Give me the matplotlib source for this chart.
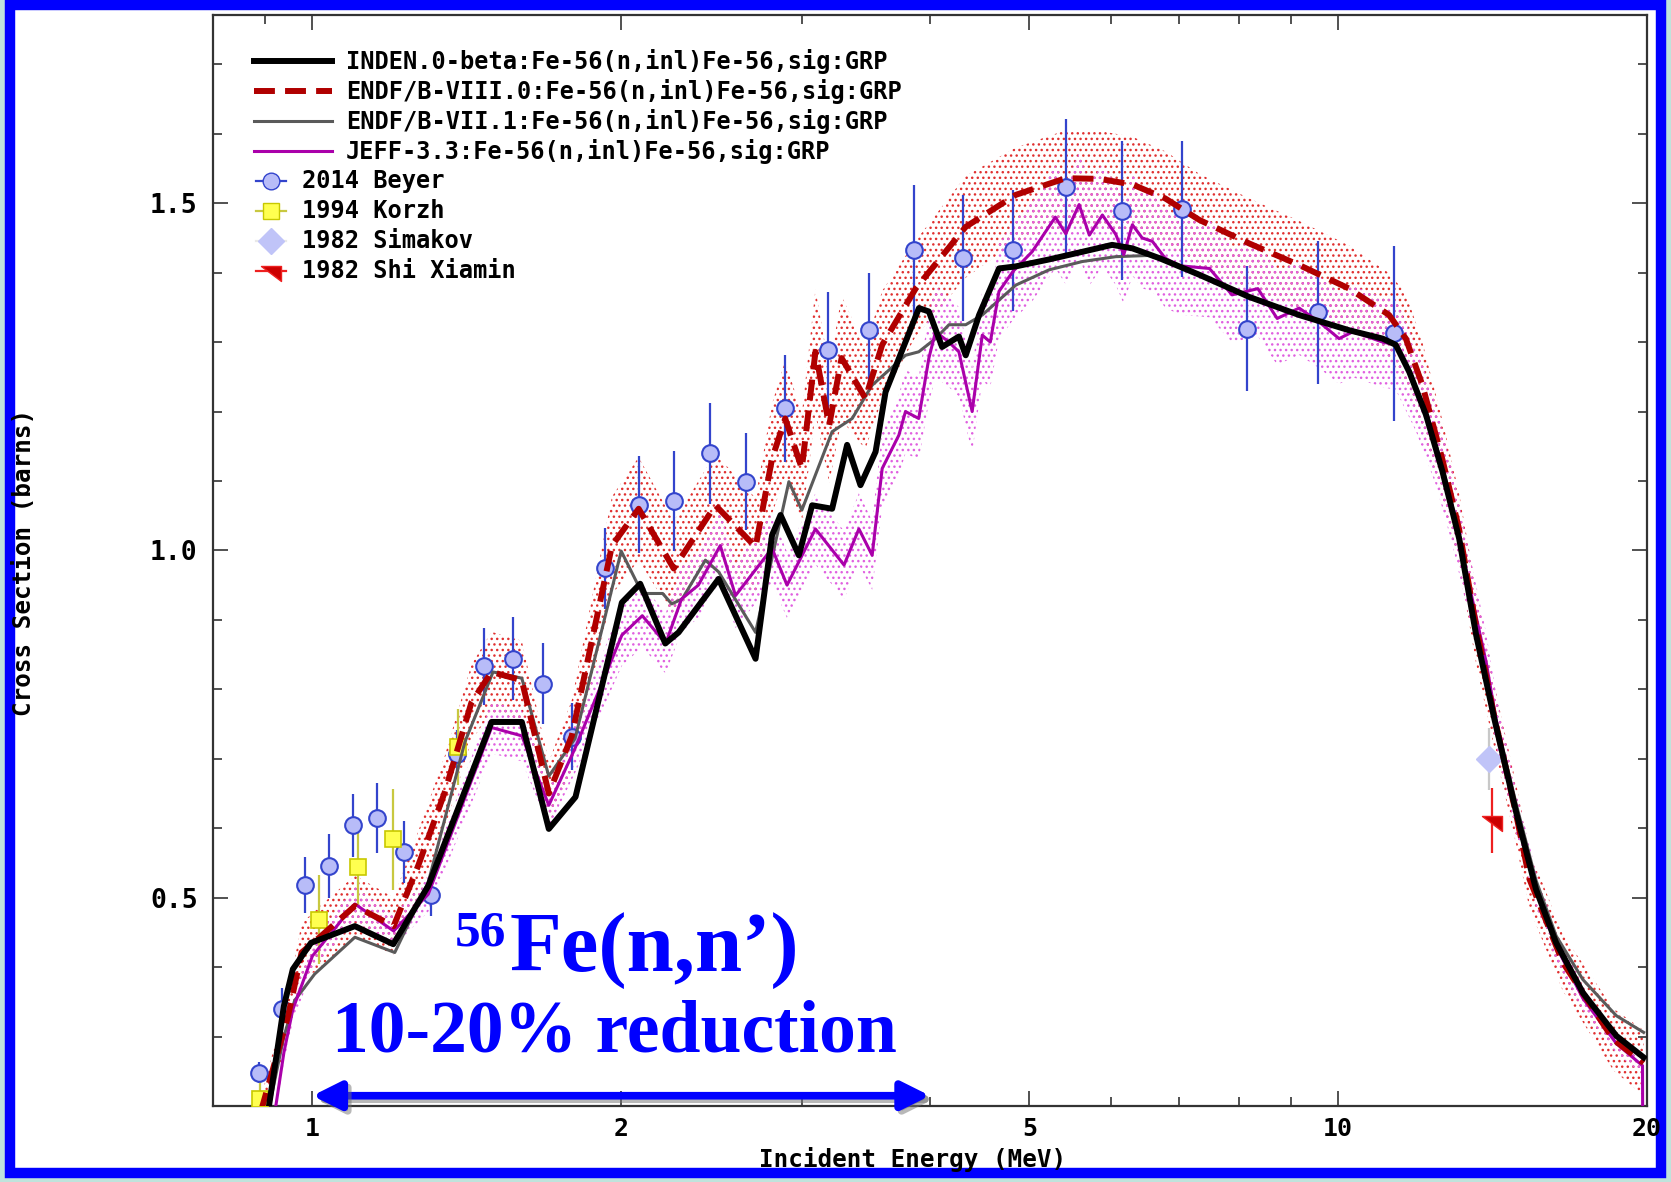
import matplotlib
matplotlib.use('Agg')
import matplotlib.pyplot as plt
import matplotlib.patheffects as pe
from matplotlib.lines import Line2D
from matplotlib.patches import Rectangle
from matplotlib.path import Path
from matplotlib.ticker import FixedLocator, NullFormatter, FixedFormatter

# ---------------- evaluated cross sections (MeV, barns) ----------------
inden_e = [0.905, 0.938, 0.957, 0.997, 1.10, 1.199, 1.297, 1.495, 1.60, 1.70, 1.805,
           2.003, 2.087, 2.208, 2.275, 2.489, 2.704, 2.806, 2.86, 2.98, 3.07, 3.211,
           3.321, 3.422, 3.54, 3.62, 3.902, 3.99, 4.11, 4.268, 4.334, 4.466, 4.67,
           4.849, 5.225, 5.63, 6.02, 6.30, 6.69, 7.32, 8.19, 9.16, 10.25, 11.05,
           11.38, 11.73, 12.18, 12.64, 13.12, 13.63, 14.2, 14.91, 15.59, 16.31,
           17.32, 18.67, 19.85]
inden_s = [0.19, 0.344, 0.397, 0.435, 0.459, 0.433, 0.517, 0.753, 0.753, 0.599, 0.645,
           0.925, 0.952, 0.866, 0.882, 0.959, 0.844, 1.022, 1.051, 0.993, 1.065, 1.060,
           1.152, 1.094, 1.142, 1.228, 1.349, 1.344, 1.293, 1.308, 1.281, 1.339, 1.406,
           1.409, 1.419, 1.430, 1.440, 1.435, 1.421, 1.397, 1.365, 1.339, 1.317, 1.305,
           1.296, 1.257, 1.195, 1.113, 1.017, 0.878, 0.757, 0.623, 0.512, 0.435,
           0.363, 0.301, 0.270]

e80_e = [0.89, 0.947, 0.976, 1.02, 1.10, 1.20, 1.268, 1.346, 1.429, 1.495, 1.60, 1.70,
         1.79, 1.959, 2.08, 2.25, 2.471, 2.704, 2.806, 2.89, 3.0, 3.093, 3.19, 3.28,
         3.46, 3.593, 3.873, 4.334, 4.849, 5.425, 5.85, 6.3, 6.78, 7.32, 8.19, 9.16,
         10.25, 11.21, 11.64, 12.08, 12.64, 13.12, 13.63, 14.2, 14.91, 15.36, 16.55,
         18.54, 19.85]
e80_s = [0.19, 0.330, 0.421, 0.445, 0.488, 0.459, 0.546, 0.652, 0.781, 0.825, 0.813,
         0.650, 0.733, 1.007, 1.060, 0.974, 1.065, 1.005, 1.132, 1.190, 1.118, 1.286,
         1.180, 1.277, 1.219, 1.296, 1.377, 1.466, 1.512, 1.536, 1.535, 1.527, 1.507,
         1.476, 1.442, 1.411, 1.377, 1.339, 1.305, 1.238, 1.130, 1.030, 0.890, 0.760,
         0.620, 0.527, 0.407, 0.296, 0.262]
e80_unc = [0.10, 0.10, 0.10, 0.10, 0.09, 0.09, 0.09, 0.08, 0.07, 0.07, 0.07, 0.07,
           0.07, 0.07, 0.07, 0.07, 0.07, 0.07, 0.07, 0.07, 0.07, 0.07, 0.07, 0.07,
           0.06, 0.06, 0.05, 0.05, 0.045, 0.045, 0.045, 0.045, 0.045, 0.045, 0.045,
           0.045, 0.045, 0.045, 0.05, 0.05, 0.05, 0.05, 0.06, 0.06, 0.07, 0.08, 0.10,
           0.15, 0.18]

e71_e = [0.905, 0.938, 0.961, 1.005, 1.10, 1.203, 1.297, 1.408, 1.50, 1.60, 1.70,
         1.803, 2.0, 2.097, 2.195, 2.24, 2.293, 2.416, 2.489, 2.704, 2.914, 3.0,
         3.211, 3.359, 3.513, 3.786, 3.90, 4.05, 4.174, 4.334, 4.498, 4.849, 5.225,
         5.63, 6.07, 6.6, 7.32, 8.19, 9.16, 10.25, 11.05, 11.38, 11.73, 12.18, 12.64,
         13.12, 13.63, 14.2, 14.91, 15.59, 16.31, 17.32, 18.67, 19.85]
e71_s = [0.19, 0.300, 0.352, 0.390, 0.443, 0.421, 0.522, 0.724, 0.825, 0.816, 0.675,
         0.729, 0.999, 0.938, 0.938, 0.923, 0.930, 0.986, 0.969, 0.882, 1.099, 1.058,
         1.171, 1.190, 1.238, 1.281, 1.286, 1.305, 1.325, 1.325, 1.339, 1.382, 1.404,
         1.416, 1.423, 1.425, 1.397, 1.365, 1.339, 1.317, 1.305, 1.296, 1.260, 1.200,
         1.120, 1.025, 0.885, 0.765, 0.635, 0.525, 0.445, 0.382, 0.330, 0.306]

jeff_e = [0.919, 0.938, 0.957, 1.0, 1.10, 1.20, 1.297, 1.495, 1.60, 1.70, 1.803, 2.003,
          2.097, 2.21, 2.29, 2.378, 2.498, 2.585, 2.806, 2.902, 3.093, 3.298, 3.41,
          3.513, 3.593, 3.73, 3.786, 3.90, 3.99, 4.05, 4.174, 4.268, 4.397, 4.498,
          4.58, 4.67, 4.82, 5.03, 5.30, 5.425, 5.59, 5.72, 5.89, 6.07, 6.18, 6.30,
          6.44, 6.59, 6.78, 7.0, 7.49, 7.88, 8.35, 8.72, 9.16, 9.58, 10.02, 10.34,
          11.05, 11.38, 11.91, 12.45, 12.93, 13.42, 13.94, 14.25, 14.91, 15.59, 16.31,
          17.32, 18.67, 19.80, 19.82]
jeff_s = [0.19, 0.277, 0.339, 0.416, 0.491, 0.452, 0.505, 0.745, 0.733, 0.633, 0.715,
          0.878, 0.906, 0.866, 0.930, 0.950, 1.007, 0.935, 1.003, 0.950, 1.031, 0.979,
          1.031, 0.993, 1.118, 1.166, 1.200, 1.190, 1.277, 1.315, 1.300, 1.286, 1.200,
          1.310, 1.300, 1.373, 1.402, 1.430, 1.480, 1.456, 1.498, 1.454, 1.483, 1.455,
          1.426, 1.469, 1.450, 1.445, 1.421, 1.410, 1.406, 1.368, 1.377, 1.334, 1.349,
          1.329, 1.305, 1.315, 1.300, 1.296, 1.233, 1.152, 1.060, 0.950, 0.839, 0.757,
          0.623, 0.512, 0.430, 0.355, 0.290, 0.258, 0.0]
jeff_unc = 0.05

# ---------------- experimental data ----------------
beyer_e = [0.888, 0.933, 0.983, 1.037, 1.095, 1.156, 1.227, 1.304, 1.382, 1.470, 1.568,
           1.677, 1.790, 1.930, 2.083, 2.252, 2.441, 2.649, 2.887, 3.178, 3.492, 3.858,
           4.306, 4.822, 5.425, 6.152, 7.04, 8.146, 9.546, 11.34]
beyer_s = [0.248, 0.340, 0.518, 0.545, 0.604, 0.615, 0.566, 0.504, 0.707, 0.833, 0.844,
           0.808, 0.732, 0.974, 1.066, 1.071, 1.140, 1.099, 1.205, 1.288, 1.318, 1.432,
           1.421, 1.432, 1.524, 1.489, 1.492, 1.319, 1.343, 1.3125]
beyer_err = [0.015, 0.03, 0.04, 0.046, 0.045, 0.05, 0.045, 0.03, 0.035, 0.055, 0.06,
             0.058, 0.048, 0.058, 0.07, 0.072, 0.073, 0.07, 0.077, 0.084, 0.082, 0.094,
             0.091, 0.087, 0.097, 0.10, 0.098, 0.09, 0.103, 0.126]

korzh_e = [0.89, 1.014, 1.108, 1.199, 1.387]
korzh_s = [0.21, 0.468, 0.544, 0.584, 0.717]
korzh_err = [0.03, 0.064, 0.056, 0.073, 0.055]

simakov_e = [14.02]
simakov_s = [0.700]
simakov_err = [0.045]

shi_e = [14.12]
shi_s = [0.611]
shi_err = [0.047]

legend_lines = ['INDEN.0-beta:Fe-56(n,inl)Fe-56,sig:GRP',
                'ENDF/B-VIII.0:Fe-56(n,inl)Fe-56,sig:GRP',
                'ENDF/B-VII.1:Fe-56(n,inl)Fe-56,sig:GRP',
                'JEFF-3.3:Fe-56(n,inl)Fe-56,sig:GRP']
legend_data = ['2014 Beyer', '1994 Korzh', '1982 Simakov', '1982 Shi Xiamin']

W, H = 1671, 1182
MONO = 'DejaVu Sans Mono'
plt.rcParams['hatch.linewidth'] = 1.0

fig = plt.figure(figsize=(W / 100, H / 100), dpi=100, facecolor='#bfe3dc')

# blue frame around the slide
frame = Rectangle((9.5 / W, 9 / H), 1651 / W, 1168 / H, transform=fig.transFigure,
                  facecolor='white', edgecolor='#0000ff', linewidth=7.5, zorder=0)
fig.add_artist(frame)

ax = fig.add_axes([213 / W, 1 - 1106 / H, 1434 / W, 1091 / H])
ax.set_xscale('log')
ax.set_xlim(0.8, 20.0)
ax.set_ylim(0.2, 1.771)

# uncertainty bands (dotted)
lo = [s * (1 - u) for s, u in zip(e80_s, e80_unc)]
hi = [s * (1 + u) for s, u in zip(e80_s, e80_unc)]
ax.fill_between(e80_e, lo, hi, facecolor='none', edgecolor='#e03030', hatch='...',
                linewidth=0, zorder=1)
ax.fill_between(jeff_e[:-1], [s * (1 - jeff_unc) for s in jeff_s[:-1]],
                [s * (1 + jeff_unc) for s in jeff_s[:-1]], facecolor='none',
                edgecolor='#e060e0', hatch='...', linewidth=0, zorder=1)

# experimental points
ax.errorbar(beyer_e, beyer_s, yerr=beyer_err, fmt='o', ms=12, mfc='#b8bcf8',
            mec='#3344cc', mew=1.5, ecolor='#3344cc', elinewidth=1.6, capsize=0, zorder=3)
ax.errorbar(korzh_e, korzh_s, yerr=korzh_err, fmt='s', ms=12, mfc='#ffff50',
            mec='#c8c800', mew=1.2, ecolor='#c8c840', elinewidth=1.6, capsize=0, zorder=3)
ax.errorbar(simakov_e, simakov_s, yerr=simakov_err, fmt='D', ms=13, mfc='#c0c4f8',
            mec='#c0c4f8', ecolor='#c8c8c8', elinewidth=1.6, capsize=0, zorder=3)
flag = Path([(-1, 0.55), (1, 0.55), (1, -1), (-1, 0.55)],
            [Path.MOVETO, Path.LINETO, Path.LINETO, Path.CLOSEPOLY])
ax.errorbar(shi_e, shi_s, yerr=shi_err, fmt='none', ecolor='#ee2020', elinewidth=1.6,
            capsize=0, zorder=3)
ax.plot(shi_e, shi_s, linestyle='none', marker=flag, ms=14, mfc='#cc0000',
        mec='#ee2020', zorder=3)

# evaluations
ax.plot(e71_e, e71_s, color='#5a5a5a', lw=2.2, zorder=4)
ax.plot(jeff_e, jeff_s, color='#aa00aa', lw=2.2, zorder=5)
ax.plot(e80_e, e80_s, color='#b00000', lw=4.3, dashes=(3.5, 1.7), zorder=6)
ax.plot(inden_e, inden_s, color='black', lw=4.3, zorder=7)

# ticks
ax.xaxis.set_major_locator(FixedLocator([1, 2, 5, 10, 20]))
ax.xaxis.set_major_formatter(FixedFormatter(['1', '2', '5', '10', '20']))
ax.xaxis.set_minor_locator(FixedLocator([0.9, 3, 4, 6, 7, 8, 9]))
ax.xaxis.set_minor_formatter(NullFormatter())
ax.yaxis.set_major_locator(FixedLocator([0.5, 1.0, 1.5]))
ax.yaxis.set_major_formatter(FixedFormatter(['0.5', '1.0', '1.5']))
ax.yaxis.set_minor_locator(FixedLocator([0.3, 0.4, 0.6, 0.7, 0.8, 0.9, 1.1, 1.2, 1.3,
                                         1.4, 1.6, 1.7]))
ax.tick_params(which='both', direction='in', top=True, right=True, color='#333333',
               width=1.2)
ax.tick_params(which='major', length=11)
ax.tick_params(which='minor', length=6.5)
ax.tick_params(axis='y', pad=11)
ax.tick_params(axis='x', pad=8)
for lab in ax.get_yticklabels():
    lab.set_fontfamily(MONO)
    lab.set_fontsize(19)
    lab.set_fontweight('bold')
for lab in ax.get_xticklabels():
    lab.set_fontfamily(MONO)
    lab.set_fontsize(18)
    lab.set_fontweight('bold')
for sp in ax.spines.values():
    sp.set_color('#333333')
    sp.set_linewidth(1.6)

ax.set_xlabel('Incident Energy (MeV)', fontfamily=MONO, fontsize=17.5,
              fontweight='bold')
ax.set_ylabel('Cross Section (barns)', fontfamily=MONO, fontsize=17.5,
              fontweight='bold')
ax.xaxis.set_label_coords(0.488, -0.038)
ax.yaxis.set_label_coords(-0.1235, 0.498)

# hand-made legend (line keys are longer than the marker keys)
row_y = [61, 91, 121, 151, 181, 211, 241, 271]
line_styles = [dict(color='black', lw=4.3),
               dict(color='#b00000', lw=4.3, dashes=(3.5, 1.7)),
               dict(color='#5a5a5a', lw=2.2),
               dict(color='#aa00aa', lw=2.2)]
for lbl, st, py in zip(legend_lines, line_styles, row_y[:4]):
    fig.add_artist(Line2D([254 / W, 332 / W], [1 - py / H, 1 - py / H], **st))
    fig.text(346 / W, 1 - py / H, lbl, fontfamily=MONO, fontweight='bold',
             fontsize=17, va='center', ha='left')
key_colors = ['#3344cc', '#c8c840', '#e8e8e8', '#ee2020']
marker_styles = [dict(marker='o', ms=12, mfc='#b8bcf8', mec='#3344cc'),
                 dict(marker='s', ms=12, mfc='#ffff50', mec='#c8c800'),
                 dict(marker='D', ms=13, mfc='#c0c4f8', mec='#c0c4f8'),
                 dict(marker=flag, ms=14, mfc='#cc0000', mec='#ee2020')]
for lbl, kc, st, py in zip(legend_data, key_colors, marker_styles, row_y[4:]):
    fig.add_artist(Line2D([256 / W, 286 / W], [1 - py / H, 1 - py / H], lw=1.6,
                          color=kc))
    fig.add_artist(Line2D([271 / W], [1 - py / H], lw=0, **st))
    fig.text(302 / W, 1 - py / H, lbl, fontfamily=MONO, fontweight='bold',
             fontsize=17, va='center', ha='left')

# annotation
SERIF = 'Liberation Serif'
fig.text(455 / W, 1 - 945 / H, '56', fontfamily=SERIF, fontweight='bold',
         fontsize=37, color='#0000ff', ha='left', va='baseline')
fig.text(510 / W, 1 - 971 / H, 'Fe(n,n\u2019)', fontfamily=SERIF, fontweight='bold',
         fontsize=61, color='#0000ff', ha='left', va='baseline')
fig.text(332 / W, 1 - 1052 / H, '10-20% reduction', fontfamily=SERIF,
         fontweight='bold', fontsize=53, color='#0000ff', ha='left', va='baseline')

shadow = [pe.SimpleLineShadow(offset=(2.5, -2.5), shadow_color='0.45', alpha=0.5),
          pe.SimplePatchShadow(offset=(2.5, -2.5), shadow_rgbFace='0.45', alpha=0.5),
          pe.Normal()]
ax.annotate('', xy=(4.0, 0.2148), xytext=(1.0, 0.2148),
            arrowprops=dict(arrowstyle='<|-|>,head_length=1.4,head_width=0.7',
                            color='#0000ff', lw=5.5, shrinkA=0, shrinkB=0,
                            mutation_scale=12, path_effects=shadow), zorder=8)

fig.savefig('out.png', dpi=100, facecolor=fig.get_facecolor())
